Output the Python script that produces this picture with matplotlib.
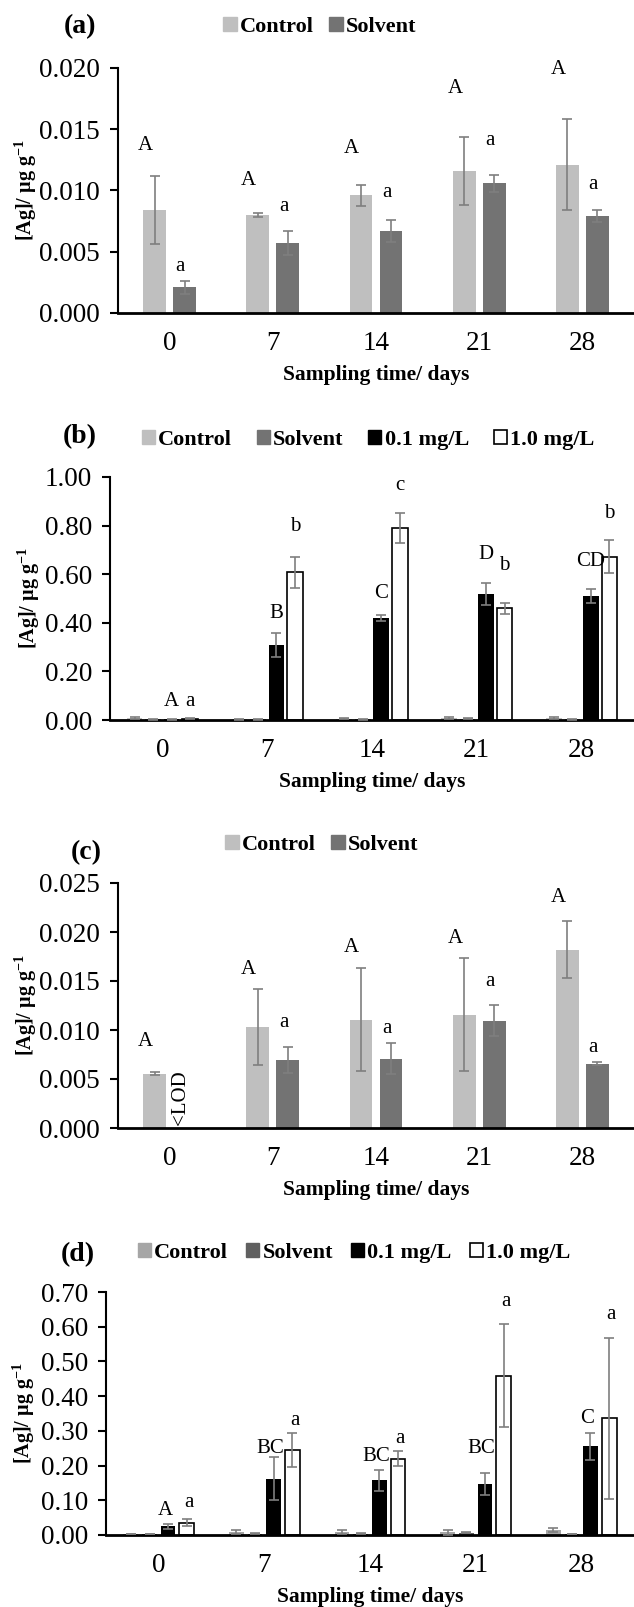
import numpy as np
import matplotlib
matplotlib.use('Agg')
import matplotlib.pyplot as plt
from matplotlib.patches import Patch

plt.rcParams['font.family'] = ['Liberation Serif', 'DejaVu Serif']
plt.rcParams['mathtext.fontset'] = 'custom'
plt.rcParams['mathtext.rm'] = 'Liberation Serif:bold'
plt.rcParams['mathtext.bf'] = 'Liberation Serif:bold'

days = ['0', '7', '14', '21', '28']

# panel (a)
a_control = [0.0084, 0.0080, 0.0096, 0.0116, 0.0121]
a_control_err = [0.0028, 0.0002, 0.00085, 0.0028, 0.0037]
a_solvent = [0.0021, 0.0057, 0.0067, 0.0106, 0.0079]
a_solvent_err = [0.00055, 0.0010, 0.0009, 0.0007, 0.0005]
a_control_lab = ['A', 'A', 'A', 'A', 'A']
a_control_lab_y = [0.0137, 0.0108, 0.0134, 0.0183, 0.0199]
a_solvent_lab = ['a', 'a', 'a', 'a', 'a']
a_solvent_lab_y = [0.0038, 0.0087, 0.0098, 0.0141, 0.0105]

# panel (b)
b_control = [0.008, 0.004, 0.006, 0.008, 0.009]
b_control_err = [0.003, 0.002, 0.003, 0.004, 0.005]
b_solvent = [0.003, 0.003, 0.003, 0.005, 0.003]
b_solvent_err = [0.001, 0.001, 0.001, 0.002, 0.001]
b_low = [0.003, 0.31, 0.421, 0.519, 0.51]
b_low_err = [0.001, 0.05, 0.012, 0.045, 0.028]
b_high = [0.006, 0.607, 0.79, 0.46, 0.672]
b_high_err = [0.001, 0.065, 0.063, 0.023, 0.067]
b_low_lab = ['A', 'B', 'C', 'D', 'CD']
b_low_lab_y = [0.075, 0.437, 0.519, 0.68, 0.652]
b_high_lab = ['a', 'b', 'c', 'b', 'b']
b_high_lab_y = [0.075, 0.795, 0.963, 0.635, 0.85]

# panel (c)
c_control = [0.00556, 0.0103, 0.01105, 0.01156, 0.01818]
c_control_err = [0.00015, 0.0039, 0.00525, 0.00577, 0.0029]
c_solvent = [0.0, 0.00692, 0.00709, 0.01095, 0.00655]
c_solvent_err = [0.0, 0.00133, 0.0016, 0.0016, 0.00017]
c_control_lab = ['A', 'A', 'A', 'A', 'A']
c_control_lab_y = [0.0088, 0.01613, 0.01845, 0.01937, 0.02353]
c_solvent_lab = ['', 'a', 'a', 'a', 'a']
c_solvent_lab_y = [0.0, 0.01078, 0.01016, 0.0150, 0.00819]
c_lod_y = 0.00306

# panel (d)
d_control = [0.003, 0.008, 0.008, 0.008, 0.015]
d_control_err = [0.001, 0.005, 0.006, 0.007, 0.005]
d_solvent = [0.003, 0.004, 0.004, 0.007, 0.003]
d_solvent_err = [0.001, 0.001, 0.001, 0.002, 0.001]
d_low = [0.025, 0.162, 0.157, 0.147, 0.255]
d_low_err = [0.008, 0.062, 0.03, 0.031, 0.038]
d_high = [0.036, 0.245, 0.22, 0.459, 0.336]
d_high_err = [0.01, 0.05, 0.021, 0.148, 0.231]
d_low_lab = ['A', 'BC', 'BC', 'BC', 'C']
d_low_lab_y = [0.072, 0.25, 0.226, 0.25, 0.336]
d_high_lab = ['a', 'a', 'a', 'a', 'a']
d_high_lab_y = [0.093, 0.331, 0.277, 0.674, 0.636]

W, H = 634, 1607
fig = plt.figure(figsize=(W / 100, H / 100), dpi=100)

ecol = '#7f7f7f'
col_ctrl = '#bfbfbf'
col_solv = '#737373'


def make_ax(left, top, bottom):
    ax = fig.add_axes([left / W, 1 - bottom / H, (W - left) / W, (bottom - top) / H])
    ax.spines['top'].set_visible(False)
    ax.spines['right'].set_visible(False)
    ax.spines['left'].set_linewidth(1.5)
    ax.spines['bottom'].set_linewidth(2)
    ax.set_xlim(-0.5, 4.5)
    ax.set_xticks(range(5))
    ax.set_xticklabels(days)
    ax.tick_params(axis='x', length=0, pad=13, labelsize=19.5)
    ax.tick_params(axis='y', length=6, width=1.5, pad=7, labelsize=19.5, direction='out')
    ax.set_xlabel('Sampling time/ days', fontsize=15.5, fontweight='bold', va='center')
    ax.xaxis.set_label_coords(0.5, -62 / (bottom - top))
    ax.set_ylabel(r'[Ag]/ µg g$^{-1}$', fontsize=14.5, fontweight='bold', va='center')
    return ax


def bars(ax, offs, width, vals, errs, color, edge=None):
    x = np.arange(5) + offs
    ax.bar(x, vals, width, color=color, edgecolor=edge if edge else color,
           linewidth=1.2 if edge else 0, zorder=2)
    ax.errorbar(x, vals, yerr=errs, fmt='none', ecolor=ecol, elinewidth=1.2,
                capsize=3.5, capthick=1.2, zorder=3)
    return x


def letters(ax, x, labs, ys, dx=0.0):
    for xi, t, y in zip(x, labs, ys):
        if t:
            ax.text(xi + dx, y, t, ha='center', va='center', fontsize=15)


def legend(cx, cy, handles, names, spacing):
    fig.legend(handles, names, loc='center', bbox_to_anchor=(cx / W, 1 - cy / H),
               ncol=len(names), frameon=False, handlelength=0.6, handleheight=0.6,
               handletextpad=0.15, columnspacing=spacing,
               prop={'weight': 'bold', 'size': 16}, borderpad=0)


def title(cx, cy, t):
    fig.text(cx / W, 1 - cy / H, t, ha='center', va='center', fontsize=20, fontweight='bold')


h_ctrl = Patch(facecolor=col_ctrl, edgecolor=col_ctrl)
h_solv = Patch(facecolor=col_solv, edgecolor=col_solv)
h_low = Patch(facecolor='black', edgecolor='black')
h_high = Patch(facecolor='white', edgecolor='black', linewidth=1.2)

# (a)
ax = make_ax(118, 68, 313)
xc = bars(ax, -0.145, 0.22, a_control, a_control_err, col_ctrl)
xs = bars(ax, 0.145, 0.22, a_solvent, a_solvent_err, col_solv)
letters(ax, xc, a_control_lab, a_control_lab_y, -0.09)
letters(ax, xs, a_solvent_lab, a_solvent_lab_y, -0.04)
ax.set_ylim(0, 0.020)
ax.set_yticks(np.arange(0, 0.0201, 0.005))
ax.yaxis.set_major_formatter(matplotlib.ticker.FormatStrFormatter('%.3f'))
ax.yaxis.set_label_coords((26 - 118) / (W - 118), 0.5)
title(80, 27, '(a)')
legend(320, 27, [h_ctrl, h_solv], ['Control', 'Solvent'], 0.7)

# (b)
ax = make_ax(110, 477, 720)
bars(ax, -0.265, 0.15, b_control, b_control_err, col_ctrl)
bars(ax, -0.088, 0.15, b_solvent, b_solvent_err, col_solv)
xl = bars(ax, 0.088, 0.15, b_low, b_low_err, 'black')
xh = bars(ax, 0.265, 0.15, b_high, b_high_err, 'white', 'black')
letters(ax, xl, b_low_lab, b_low_lab_y)
letters(ax, xh, b_high_lab, b_high_lab_y)
ax.set_ylim(0, 1.0)
ax.set_yticks(np.arange(0, 1.01, 0.2))
ax.yaxis.set_major_formatter(matplotlib.ticker.FormatStrFormatter('%.2f'))
ax.yaxis.set_label_coords((29 - 110) / (W - 110), 0.5)
title(80, 437, '(b)')
legend(368, 440, [h_ctrl, h_solv, h_low, h_high],
       ['Control', 'Solvent', '0.1 mg/L', '1.0 mg/L'], 1.1)

# (c)
ax = make_ax(118, 883, 1128)
xc = bars(ax, -0.145, 0.22, c_control, c_control_err, col_ctrl)
xs = np.arange(5) + 0.145
ax.bar(xs[1:], c_solvent[1:], 0.22, color=col_solv, linewidth=0, zorder=2)
ax.errorbar(xs[1:], c_solvent[1:], yerr=c_solvent_err[1:], fmt='none', ecolor=ecol,
            elinewidth=1.2, capsize=3.5, capthick=1.2, zorder=3)
letters(ax, xc, c_control_lab, c_control_lab_y, -0.09)
letters(ax, xs, c_solvent_lab, c_solvent_lab_y, -0.04)
ax.text(xs[0] - 0.04, c_lod_y, '<LOD', rotation=90, ha='center', va='center', fontsize=15)
ax.set_ylim(0, 0.025)
ax.set_yticks(np.arange(0, 0.0251, 0.005))
ax.yaxis.set_major_formatter(matplotlib.ticker.FormatStrFormatter('%.3f'))
ax.yaxis.set_label_coords((26 - 118) / (W - 118), 0.5)
title(86, 853, '(c)')
legend(322, 845, [h_ctrl, h_solv], ['Control', 'Solvent'], 0.7)

# (d)
col_ctrl_d = '#a6a6a6'
col_solv_d = '#606060'
ax = make_ax(106, 1292, 1535)
bars(ax, -0.265, 0.14, d_control, d_control_err, col_ctrl_d)
bars(ax, -0.088, 0.14, d_solvent, d_solvent_err, col_solv_d)
xl = bars(ax, 0.088, 0.14, d_low, d_low_err, 'black')
xh = bars(ax, 0.265, 0.14, d_high, d_high_err, 'white', 'black')
letters(ax, xl, d_low_lab, d_low_lab_y, -0.03)
letters(ax, xh, d_high_lab, d_high_lab_y, 0.02)
ax.set_ylim(0, 0.70)
ax.set_yticks(np.arange(0, 0.701, 0.1))
ax.yaxis.set_major_formatter(matplotlib.ticker.FormatStrFormatter('%.2f'))
ax.yaxis.set_label_coords((24 - 106) / (W - 106), 0.5)
title(78, 1255, '(d)')
legend(354, 1253,
       [Patch(facecolor=col_ctrl_d, edgecolor=col_ctrl_d),
        Patch(facecolor=col_solv_d, edgecolor=col_solv_d), h_low, h_high],
       ['Control', 'Solvent', '0.1 mg/L', '1.0 mg/L'], 0.8)

fig.savefig('out.png', dpi=100)
